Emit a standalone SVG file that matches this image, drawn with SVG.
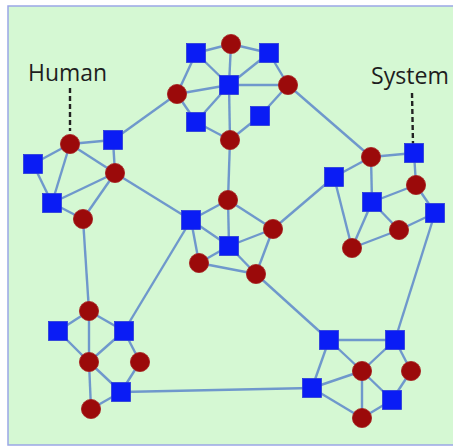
<svg xmlns="http://www.w3.org/2000/svg" width="453" height="447" viewBox="0 0 453 447">
<style>
.e{stroke:#6f98cc;stroke-width:2.4;fill:none}
.c{fill:#9b0a0a;stroke:#a51d1d;stroke-width:0.8}
.s{fill:#0a1cf5;stroke:#2a3ad8;stroke-width:0.8}
.t{font-family:"Open Sans","Liberation Sans",sans-serif;font-size:24.5px;fill:#1e1e1e}
.d{stroke:#222;stroke-width:2.4;stroke-dasharray:5 3}
</style>
<defs>
<circle id="C" r="9.6" class="c"/>
<rect id="S" x="-9.5" y="-9.5" width="19" height="19" class="s"/>
</defs>
<rect x="8" y="6" width="450" height="439" fill="#d5f8d3" stroke="#9aa6e6" stroke-width="1.5"/>
<g id="labels">
<text class="t" x="28" y="80.5" textLength="79" lengthAdjust="spacingAndGlyphs">Human</text>
<line class="d" x1="70" y1="88" x2="70" y2="131"/>
<text class="t" x="371" y="83.5" textLength="78" lengthAdjust="spacingAndGlyphs">System</text>
<line class="d" x1="412" y1="93" x2="413" y2="144"/>
</g>
<g id="connectors" class="e">
<!-- top cluster -->
<line x1="231" y1="44" x2="196" y2="53"/>
<line x1="231" y1="44" x2="269" y2="53"/>
<line x1="231" y1="44" x2="229" y2="85"/>
<line x1="196" y1="53" x2="177" y2="94"/>
<line x1="196" y1="53" x2="229" y2="85"/>
<line x1="269" y1="53" x2="229" y2="85"/>
<line x1="269" y1="53" x2="288" y2="85"/>
<line x1="177" y1="94" x2="229" y2="85"/>
<line x1="229" y1="85" x2="288" y2="85"/>
<line x1="177" y1="94" x2="196" y2="122"/>
<line x1="229" y1="85" x2="196" y2="122"/>
<line x1="229" y1="85" x2="230" y2="140"/>
<line x1="288" y1="85" x2="260" y2="116"/>
<line x1="196" y1="122" x2="230" y2="140"/>
<line x1="260" y1="116" x2="230" y2="140"/>
<!-- inter-cluster -->
<line x1="177" y1="94" x2="113" y2="140"/>
<line x1="288" y1="85" x2="371" y2="157"/>
<line x1="230" y1="140" x2="228" y2="200"/>
<line x1="115" y1="173" x2="191" y2="220"/>
<line x1="83" y1="219" x2="89" y2="311"/>
<line x1="273" y1="229" x2="334" y2="177"/>
<line x1="191" y1="220" x2="124" y2="331"/>
<line x1="256" y1="274" x2="329" y2="340"/>
<line x1="435" y1="213" x2="395" y2="340"/>
<line x1="121" y1="392" x2="312" y2="388"/>
<!-- human cluster -->
<line x1="70" y1="144" x2="113" y2="140"/>
<line x1="70" y1="144" x2="33" y2="164"/>
<line x1="70" y1="144" x2="52" y2="203"/>
<line x1="70" y1="144" x2="115" y2="173"/>
<line x1="113" y1="140" x2="115" y2="173"/>
<line x1="33" y1="164" x2="52" y2="203"/>
<line x1="52" y1="203" x2="115" y2="173"/>
<line x1="115" y1="173" x2="83" y2="219"/>
<line x1="52" y1="203" x2="83" y2="219"/>
<!-- system cluster -->
<line x1="371" y1="157" x2="414" y2="153"/>
<line x1="371" y1="157" x2="334" y2="177"/>
<line x1="371" y1="157" x2="372" y2="202"/>
<line x1="414" y1="153" x2="416" y2="185"/>
<line x1="416" y1="185" x2="372" y2="202"/>
<line x1="416" y1="185" x2="435" y2="213"/>
<line x1="372" y1="202" x2="399" y2="230"/>
<line x1="372" y1="202" x2="352" y2="248"/>
<line x1="334" y1="177" x2="352" y2="248"/>
<line x1="399" y1="230" x2="435" y2="213"/>
<line x1="352" y1="248" x2="399" y2="230"/>
<!-- center cluster -->
<line x1="191" y1="220" x2="228" y2="200"/>
<line x1="191" y1="220" x2="229" y2="246"/>
<line x1="228" y1="200" x2="229" y2="246"/>
<line x1="228" y1="200" x2="273" y2="229"/>
<line x1="229" y1="246" x2="273" y2="229"/>
<line x1="191" y1="220" x2="199" y2="263"/>
<line x1="199" y1="263" x2="229" y2="246"/>
<line x1="199" y1="263" x2="256" y2="274"/>
<line x1="229" y1="246" x2="256" y2="274"/>
<line x1="273" y1="229" x2="256" y2="274"/>
<!-- lower-left cluster -->
<line x1="89" y1="311" x2="58" y2="331"/>
<line x1="89" y1="311" x2="89" y2="362"/>
<line x1="89" y1="311" x2="124" y2="331"/>
<line x1="58" y1="331" x2="89" y2="362"/>
<line x1="124" y1="331" x2="89" y2="362"/>
<line x1="124" y1="331" x2="140" y2="362"/>
<line x1="89" y1="362" x2="121" y2="392"/>
<line x1="89" y1="362" x2="91" y2="409"/>
<line x1="140" y1="362" x2="121" y2="392"/>
<line x1="121" y1="392" x2="91" y2="409"/>
<!-- lower-right cluster -->
<line x1="329" y1="340" x2="395" y2="340"/>
<line x1="329" y1="340" x2="312" y2="388"/>
<line x1="329" y1="340" x2="362" y2="371"/>
<line x1="395" y1="340" x2="362" y2="371"/>
<line x1="395" y1="340" x2="411" y2="371"/>
<line x1="312" y1="388" x2="362" y2="371"/>
<line x1="312" y1="388" x2="362" y2="418"/>
<line x1="362" y1="371" x2="362" y2="418"/>
<line x1="362" y1="371" x2="392" y2="400"/>
<line x1="411" y1="371" x2="392" y2="400"/>
<line x1="392" y1="400" x2="362" y2="418"/>
</g>
<g id="top-cluster">
<use id="t1" href="#C" x="231" y="44"/>
<use id="t2" href="#S" x="196" y="53"/>
<use id="t3" href="#S" x="269" y="53"/>
<use id="t4" href="#C" x="177" y="94"/>
<use id="t5" href="#S" x="229" y="85"/>
<use id="t6" href="#C" x="288" y="85"/>
<use id="t7" href="#S" x="196" y="122"/>
<use id="t8" href="#S" x="260" y="116"/>
<use id="t9" href="#C" x="230" y="140"/>
</g>
<g id="human-cluster">
<use id="h1" href="#C" x="70" y="144"/>
<use id="h2" href="#S" x="113" y="140"/>
<use id="h3" href="#S" x="33" y="164"/>
<use id="h4" href="#C" x="115" y="173"/>
<use id="h5" href="#S" x="52" y="203"/>
<use id="h6" href="#C" x="83" y="219"/>
</g>
<g id="system-cluster">
<use id="y1" href="#C" x="371" y="157"/>
<use id="y2" href="#S" x="414" y="153"/>
<use id="y3" href="#S" x="334" y="177"/>
<use id="y4" href="#C" x="416" y="185"/>
<use id="y5" href="#S" x="372" y="202"/>
<use id="y6" href="#S" x="435" y="213"/>
<use id="y7" href="#C" x="399" y="230"/>
<use id="y8" href="#C" x="352" y="248"/>
</g>
<g id="center-cluster">
<use id="m1" href="#S" x="191" y="220"/>
<use id="m2" href="#C" x="228" y="200"/>
<use id="m3" href="#S" x="229" y="246"/>
<use id="m4" href="#C" x="273" y="229"/>
<use id="m5" href="#C" x="199" y="263"/>
<use id="m6" href="#C" x="256" y="274"/>
</g>
<g id="lower-left-cluster">
<use id="l1" href="#C" x="89" y="311"/>
<use id="l2" href="#S" x="58" y="331"/>
<use id="l3" href="#S" x="124" y="331"/>
<use id="l4" href="#C" x="89" y="362"/>
<use id="l5" href="#C" x="140" y="362"/>
<use id="l6" href="#S" x="121" y="392"/>
<use id="l7" href="#C" x="91" y="409"/>
</g>
<g id="lower-right-cluster">
<use id="r1" href="#S" x="329" y="340"/>
<use id="r2" href="#S" x="395" y="340"/>
<use id="r3" href="#S" x="312" y="388"/>
<use id="r4" href="#C" x="362" y="371"/>
<use id="r5" href="#C" x="411" y="371"/>
<use id="r6" href="#S" x="392" y="400"/>
<use id="r7" href="#C" x="362" y="418"/>
</g>
</svg>
